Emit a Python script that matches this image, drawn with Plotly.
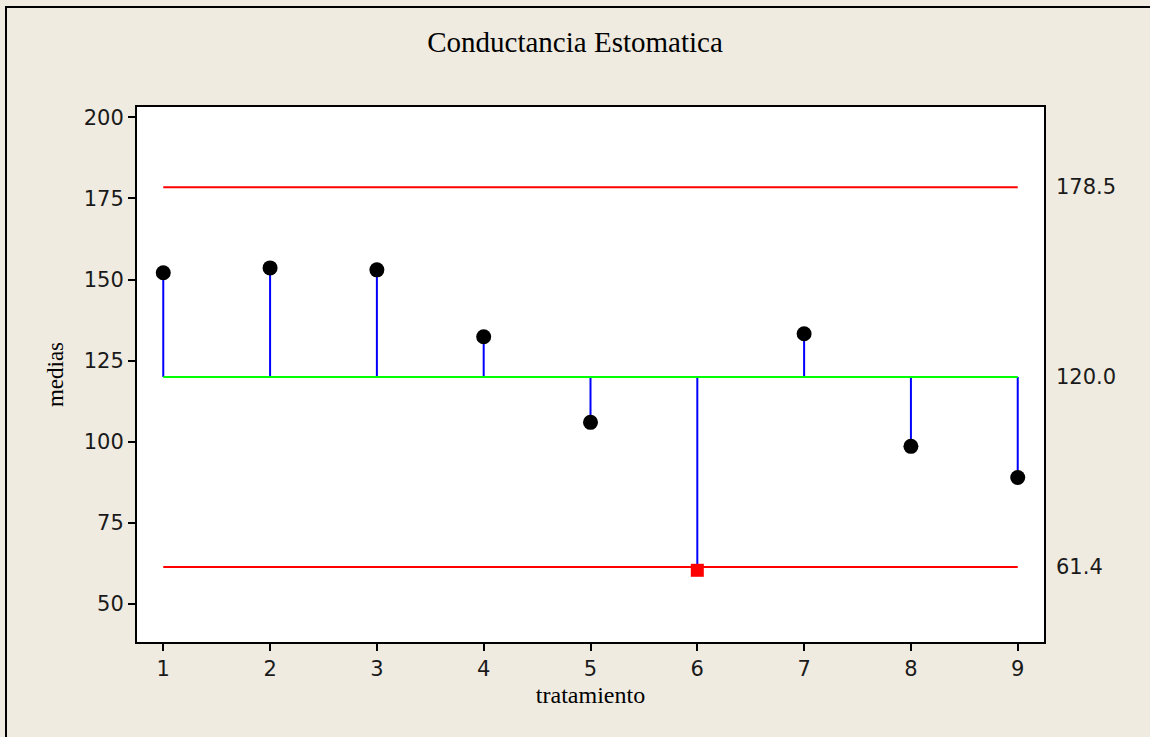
import plotly.graph_objects as go

tratamiento = [1, 2, 3, 4, 5, 6, 7, 8, 9]
medias = [152.1, 153.6, 153.0, 132.4, 106.0, 60.4, 133.3, 98.6, 89.0]
center = 120.0
ucl = 178.5
lcl = 61.4
x_ticks = [1, 2, 3, 4, 5, 6, 7, 8, 9]
y_ticks = [50, 75, 100, 125, 150, 175, 200]
limit_labels = ["178.5", "120.0", "61.4"]

W, H = 1150, 737
L, R, T, B = 137, 106, 107, 95
pw, ph = W - L - R, H - T - B

fig = go.Figure()

# stems
for x, y in zip(tratamiento, medias):
    fig.add_trace(go.Scatter(x=[x, x], y=[center, y], mode="lines",
                             line=dict(color="#0000FF", width=2),
                             showlegend=False, hoverinfo="skip"))

# limit lines
fig.add_trace(go.Scatter(x=[tratamiento[0], tratamiento[-1]], y=[ucl, ucl], mode="lines",
                         line=dict(color="#FF0000", width=2), showlegend=False))
fig.add_trace(go.Scatter(x=[tratamiento[0], tratamiento[-1]], y=[lcl, lcl], mode="lines",
                         line=dict(color="#FF0000", width=2), showlegend=False))
fig.add_trace(go.Scatter(x=[tratamiento[0], tratamiento[-1]], y=[center, center], mode="lines",
                         line=dict(color="#00FF00", width=2), showlegend=False))

# points
inside_x = [x for x, y in zip(tratamiento, medias) if lcl <= y <= ucl]
inside_y = [y for y in medias if lcl <= y <= ucl]
out_x = [x for x, y in zip(tratamiento, medias) if not (lcl <= y <= ucl)]
out_y = [y for y in medias if not (lcl <= y <= ucl)]
fig.add_trace(go.Scatter(x=inside_x, y=inside_y, mode="markers",
                         marker=dict(color="black", size=15, symbol="circle"),
                         showlegend=False))
fig.add_trace(go.Scatter(x=out_x, y=out_y, mode="markers",
                         marker=dict(color="#FF0000", size=13, symbol="square"),
                         showlegend=False))

for val, lab in zip([ucl, center, lcl], limit_labels):
    fig.add_annotation(x=(1054 - L) / pw, xref="paper", y=val, yref="y",
                       text=lab, showarrow=False, xanchor="left", yanchor="middle",
                       font=dict(family="DejaVu Sans", size=21, color="#1a1a1a"))

# outer frame
fig.add_shape(type="rect", xref="paper", yref="paper",
              x0=(6 - L) / pw, x1=(W + 10 - L) / pw,
              y0=(H - B - (H + 10)) / ph, y1=(H - B - 7) / ph,
              line=dict(color="black", width=2), fillcolor="rgba(0,0,0,0)", layer="below")

fig.update_layout(
    width=W, height=H,
    margin=dict(l=L, r=R, t=T, b=B),
    paper_bgcolor="#EFEBE1",
    plot_bgcolor="white",
    title=dict(text="Conductancia Estomatica", x=0.5, xanchor="center",
               y=1 - 42 / H, yanchor="middle",
               font=dict(family="Liberation Serif", size=29, color="black")),
    xaxis=dict(range=[0.754, 9.246], tickvals=x_ticks, ticks="outside", ticklen=7,
               tickwidth=2, tickcolor="black", showgrid=False, zeroline=False,
               showline=True, linecolor="black", linewidth=2, mirror=True,
               tickfont=dict(family="DejaVu Sans", size=21, color="#1a1a1a"),
               title=dict(text="tratamiento", standoff=6,
                          font=dict(family="Liberation Serif", size=24, color="black"))),
    yaxis=dict(range=[38.3, 203.2], tickvals=y_ticks, ticks="outside", ticklen=7,
               tickwidth=2, tickcolor="black", showgrid=False, zeroline=False,
               showline=True, linecolor="black", linewidth=2, mirror=True,
               tickfont=dict(family="DejaVu Sans", size=21, color="#1a1a1a"),
               title=dict(text="medias", standoff=14,
                          font=dict(family="Liberation Serif", size=23, color="black"))),
)

fig.write_html("out.html")
